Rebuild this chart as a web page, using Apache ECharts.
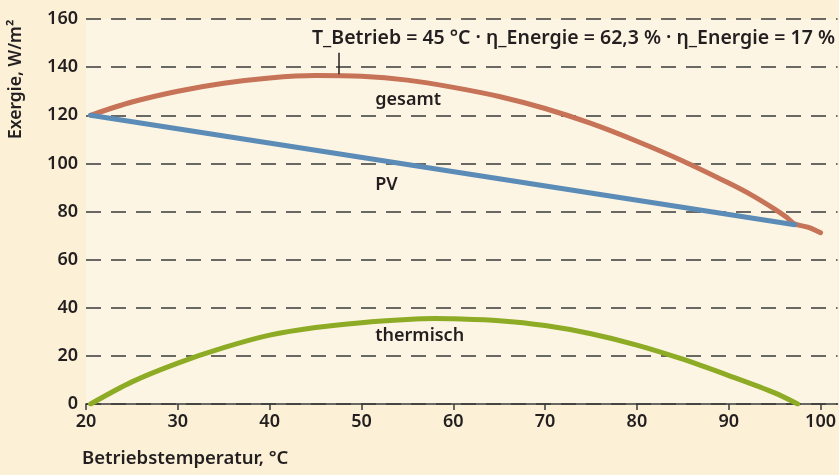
<!DOCTYPE html>
<html>
<head>
<meta charset="utf-8">
<script src="https://cdn.jsdelivr.net/npm/echarts@6/dist/echarts.min.js"></script>
<style>
  html, body { margin: 0; padding: 0; background: #fcf0d7; }
  #chart { width: 839px; height: 475px; }
</style>
</head>
<body>
<div id="chart"></div>
<script>
// Werte
const gesamt = [
  [20.5, 120], [25, 125.5], [30, 130], [35, 133.3], [40, 135.5], [45, 136.5],
  [50, 136.2], [55, 134.6], [60, 131.6], [65, 127.8], [70, 122.8], [75, 116.6],
  [80, 109.2], [85, 101], [90, 91.8], [92.5, 86.8], [95, 81], [96.3, 77.6],
  [97.2, 74.8], [98.6, 73.5], [100, 71.2]
]
const pv = [[20.5, 120], [97.2, 74.5]]
const thermisch = [
  [20.5, 0], [25, 9.2], [30, 17], [35, 23.4], [40, 28.6], [45, 31.8], [50, 33.8],
  [55, 35.1], [58, 35.5], [60, 35.4], [65, 34.6], [70, 32.6], [75, 29.2],
  [80, 24.5], [85, 18.6], [90, 11.8], [95, 4.6], [97.5, 0]
]
const xTicks = [20, 30, 40, 50, 60, 70, 80, 90, 100]
// Beschriftungen an den Kurven: [x, y, text]
const curveLabels = [
  [51.5, 126.3, 'gesamt'],
  [51.5, 91, 'PV'],
  [51.5, 28.3, 'thermisch']
]
const markerX = 47.5
const markerRange = [137, 146]
const noteText = 'T_Betrieb = 45 °C · η_Energie = 62,3 % · η_Energie = 17 %'

const font = '"Noto Sans", sans-serif'
const ink = '#231f20'

const chart = echarts.init(document.getElementById('chart'))
chart.setOption({
  animation: false,
  backgroundColor: '#fcf0d7',
  textStyle: { fontFamily: font },
  grid: {
    left: 86, right: 0, top: 19, bottom: 71,
    show: true, backgroundColor: '#fdf5e3', borderWidth: 0
  },
  xAxis: {
    type: 'value',
    min: 20,
    max: 101.85,
    axisLine: { show: true, lineStyle: { color: '#3a3a3a', width: 1.5 } },
    axisTick: { show: true, length: 6, customValues: xTicks, lineStyle: { color: '#3a3a3a', width: 1.5 } },
    axisLabel: { customValues: xTicks, color: ink, fontSize: 18, fontWeight: 600, margin: 9 },
    splitLine: { show: false }
  },
  yAxis: {
    type: 'value',
    min: 0,
    max: 160,
    interval: 20,
    axisLine: { show: false },
    axisTick: { show: false },
    axisLabel: { color: ink, fontSize: 18, fontWeight: 600, margin: 8 },
    splitLine: {
      show: true,
      lineStyle: { color: '#3a3a3a', width: 1.5, type: [15, 10] }
    }
  },
  graphic: [
    {
      type: 'text', left: 312, top: 28,
      style: { text: noteText, font: '600 19.5px ' + font, fill: ink }
    },
    {
      type: 'text', left: 82, top: 449,
      style: { text: 'Betriebstemperatur, °C', font: '600 18.5px ' + font, fill: ink }
    },
    {
      type: 'text', x: 7, y: 139, rotation: Math.PI / 2,
      style: { text: 'Exergie, W/m²', font: '600 17.5px ' + font, fill: ink }
    }
  ],
  series: [
    {
      name: 'gesamt', type: 'line', data: gesamt, smooth: 0.3, symbol: 'none',
      lineStyle: { color: '#c67358', width: 5, cap: 'round' },
      markLine: {
        silent: true, symbol: 'none', label: { show: false },
        lineStyle: { color: ink, width: 1.5, type: 'solid' },
        data: [[{ coord: [markerX, markerRange[0]] }, { coord: [markerX, markerRange[1]] }]]
      }
    },
    {
      name: 'PV', type: 'line', data: pv, symbol: 'none',
      lineStyle: { color: '#5b8cb7', width: 5, cap: 'round' }
    },
    {
      name: 'thermisch', type: 'line', data: thermisch, smooth: 0.3, symbol: 'none',
      lineStyle: { color: '#8dab24', width: 5, cap: 'round' }
    },
    {
      name: 'labels', type: 'scatter', symbolSize: 0, silent: true,
      itemStyle: { opacity: 1 },
      data: curveLabels.map(d => ({ value: [d[0], d[1]], name: d[2] })),
      label: {
        show: true, position: 'right', distance: 0, opacity: 1,
        formatter: p => p.name,
        color: ink, fontSize: 18, fontWeight: 600, fontFamily: font
      }
    }
  ]
})
</script>
</body>
</html>
